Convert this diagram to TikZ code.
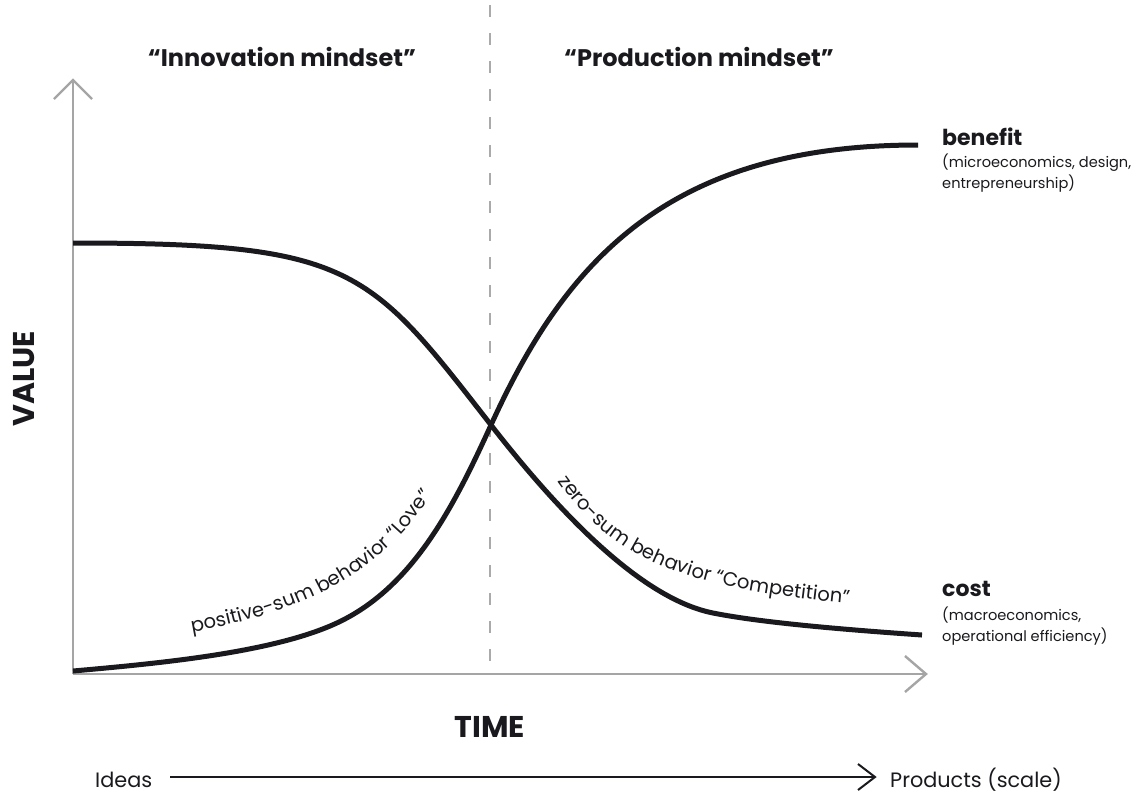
\documentclass[tikz,border=0pt]{standalone}
\usepackage{fontspec}
\setmainfont{Poppins}
\usetikzlibrary{calc,decorations.text}
\definecolor{axisgray}{RGB}{165,165,165}
\definecolor{dashgray}{RGB}{170,170,170}
\definecolor{ink}{RGB}{26,25,30}
\newcommand\headfont{\bfseries\fontsize{24}{28}\selectfont}
\newcommand\keyfont{\bfseries\fontsize{22}{26}\selectfont}
\newcommand\notefont{\fontsize{14.6}{20}\selectfont}
\newcommand\curvefont{\fontsize{19.5}{23}\selectfont}
\newcommand\axfont{\bfseries\fontsize{30}{34}\selectfont}
\newcommand\botfont{\fontsize{20.8}{25}\selectfont}
\begin{document}
\begin{tikzpicture}[x=1pt,y=-1pt,
  curve/.style={draw=ink,line width=5pt},
  axis/.style={draw=axisgray,line width=2.4pt},
  lab/.style={inner sep=0pt,anchor=base west,text=ink},
  head/.style={inner sep=0pt,anchor=base,text=ink,font=\headfont},
  alongtext/.style={decorate,decoration={text along path,text align=left,text color=ink,text={|\curvefont|#1}}}]
\useasboundingbox (0,0) rectangle (1142,793);
\fill[white] (0,0) rectangle (1142,793);

% axes
\coordinate (O) at (73,674);
\coordinate (ytop) at (73,80);
\coordinate (xtip) at (926,674);
\draw[axis] (O) -- (ytop);
\draw[axis] ($(ytop)+(-19,19)$) -- (ytop) -- ($(ytop)+(19,19)$);
\draw[axis] (O) -- (xtip);
\draw[axis] ($(xtip)+(-21,-18)$) -- (xtip) -- ($(xtip)+(-21,18)$);

% divider
\coordinate (dtop) at (490,5);
\coordinate (dbot) at (490,674);
\draw[dashgray,line width=2pt,dash pattern=on 12pt off 16pt] (dtop) -- (dbot);

% curves
\coordinate (c0) at (73,243);
\coordinate (X) at (491,425);
\coordinate (ck) at (713,613);
\coordinate (c1) at (922,635);
\coordinate (b0) at (73,671);
\coordinate (bm) at (343,620);
\coordinate (b1) at (918,145);
\draw[curve] (c0) .. controls (353,243) and (368.5,267.5) .. (X)
  .. controls (578.5,537.5) and (653,601) .. (ck)
  .. controls (763,623) and (850,630) .. (c1);
\draw[curve] (b0) .. controls (163,663) and (280.7,651.9) .. (bm)
  .. controls (414.2,583.6) and (453.7,506.9) .. (X)
  .. controls (565.5,261.2) and (668,145) .. (b1);

% curve texts
\path[alongtext={positive-sum behavior “Love”}] (192,632) .. controls (270,618) and (370,590) .. (428,500) -- ++(25,-30);
\path[alongtext={zero-sum behavior “Competition”}] (558,481) .. controls (614,560) and (684,588) .. (852,604) -- ++(40,2);

% headings
\node[head] (innov) at (282,66) {“Innovation mindset”};
\node[head] (prod) at (699,66) {“Production mindset”};

% benefit / cost labels
\node[lab,font=\keyfont] (benefit) at (942,145) {benefit};
\node[lab,font=\notefont] (benefit1) at (942,167) {(microeconomics, design,};
\node[lab,font=\notefont] (benefit2) at (942,188) {entrepreneurship)};
\node[lab,font=\keyfont] (cost) at (942,596) {cost};
\node[lab,font=\notefont] (cost1) at (942,620) {(macroeconomics,};
\node[lab,font=\notefont] (cost2) at (942,641) {operational efficiency)};

% axis titles
\node[inner sep=0pt,text=ink,font=\axfont,rotate=90] (value) at (24,379) {VALUE};
\node[inner sep=0pt,text=ink,font=\axfont] (time) at (490,727) {TIME};

% bottom arrow
\node[lab,font=\botfont] (ideas) at (95,787) {Ideas};
\node[lab,font=\botfont] (products) at (890,787) {Products (scale)};
\coordinate (arrS) at (170,777);
\coordinate (arrE) at (875,777);
\draw[ink,line width=2pt] (arrS) -- (arrE);
\draw[ink,line width=2pt] ($(arrE)+(-17,-13)$) -- (arrE) -- ($(arrE)+(-17,13)$);
\end{tikzpicture}
\end{document}
